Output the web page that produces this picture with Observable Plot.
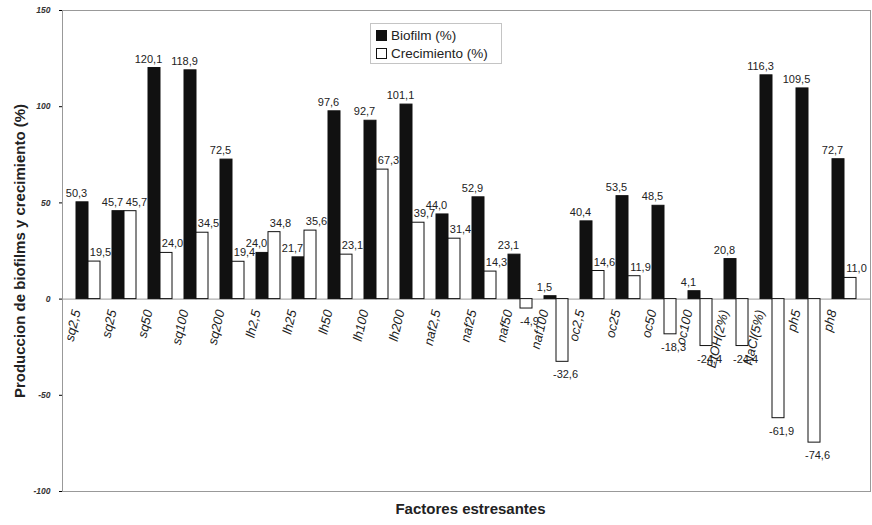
<!DOCTYPE html>
<html><head><meta charset="utf-8">
<script src="https://cdn.jsdelivr.net/npm/d3@7"></script>
<script src="https://cdn.jsdelivr.net/npm/@observablehq/plot@0.6"></script>
<style>
body{margin:0;background:#fff;font-family:"Liberation Sans",Arial,sans-serif;}
#wrap{position:relative;width:872px;height:525px;}
#legend{position:absolute;left:370px;top:23px;width:132px;height:41px;border:1px solid #c4c4c4;background:#fff;font-size:13.5px;color:#222;box-sizing:border-box;padding:3px 0 0 5px;line-height:18px;}
#legend .sw{display:inline-block;width:9px;height:9px;border:1px solid #111;margin-right:4px;vertical-align:-1px;}
</style></head>
<body><div id="wrap"><div id="chart"></div>
<div id="legend"><div><span class="sw" style="background:#111"></span>Biofilm (%)</div><div><span class="sw" style="background:#fff"></span>Crecimiento (%)</div></div>
</div>
<script>
const categories = ["sq2,5","sq25","sq50","sq100","sq200","lh2,5","lh25","lh50","lh100","lh200","naf2,5","naf25","naf50","naf100","oc2,5","oc25","oc50","oc100","EtOH(2%)","NaCl(5%)","ph5","ph8"];
const biofilm = [50.3,45.7,120.1,118.9,72.5,24.0,21.7,97.6,92.7,101.1,44.0,52.9,23.1,1.5,40.4,53.5,48.5,4.1,20.8,116.3,109.5,72.7];
const crecimiento = [19.5,45.7,24.0,34.5,19.4,34.8,35.6,23.1,67.3,39.7,31.4,14.3,-4.9,-32.6,14.6,11.9,-18.3,-24.4,-24.4,-61.9,-74.6,11.0];
const yTicks = [-100,-50,0,50,100,150];

const bio = categories.map((c,i)=>({cat:c, value:biofilm[i]}));
const crec = categories.map((c,i)=>({cat:c, value:crecimiento[i]}));
const fmt = v => v.toFixed(1).replace(".", ",");
const lab = {fontSize:11, fill:"#222", text: d=>fmt(d.value)};

const chart = Plot.plot({
  width:872, height:525,
  marginLeft:62, marginRight:2, marginTop:10, marginBottom:34,
  style:{fontFamily:"Liberation Sans, Arial, sans-serif", background:"#fff"},
  x:{domain:categories, paddingInner:0.68, paddingOuter:0.34, axis:null},
  y:{domain:[-100,150], axis:null},
  marks:[
    Plot.frame({stroke:"#999"}),
    Plot.ruleY([0], {stroke:"#999"}),
    Plot.axisY({ticks:yTicks, tickFormat:d=>String(d), tickSize:3, tickPadding:9, fontSize:8.5, fontStyle:"italic", fontWeight:"bold", fill:"#333", label:null}),
    Plot.barY(bio, {x:"cat", y:"value", dx:-6, fill:"#111", stroke:"#111"}),
    Plot.barY(crec, {x:"cat", y:"value", dx:6, fill:"#fff", stroke:"#111"}),
    Plot.text(bio, {...lab, x:"cat", y:"value", dx:-12, dy:-9, filter:d=>d.value>=0}),
    Plot.text(crec, {...lab, x:"cat", y:"value", dx:12, dy:-9, filter:d=>d.value>=0}),
    Plot.text(crec, {...lab, x:"cat", y:"value", dx:9, dy:13, filter:d=>d.value<0}),
    Plot.text(categories, {x:d=>d, y:()=>0, dx:-12, dy:11, rotate:-77, textAnchor:"end", fontSize:13, fontStyle:"italic", fill:"#222", text:d=>d}),
    Plot.text(["Produccion de biofilms y crecimiento (%)"], {frameAnchor:"left", textAnchor:"middle", rotate:-90, dx:-42, fontWeight:"bold", fontSize:15, fill:"#222"}),
    Plot.text(["Factores estresantes"], {frameAnchor:"bottom", textAnchor:"middle", dy:22, dx:4, fontWeight:"bold", fontSize:15, fill:"#222"})
  ]
});
document.getElementById("chart").appendChild(chart);
</script>
</body></html>
